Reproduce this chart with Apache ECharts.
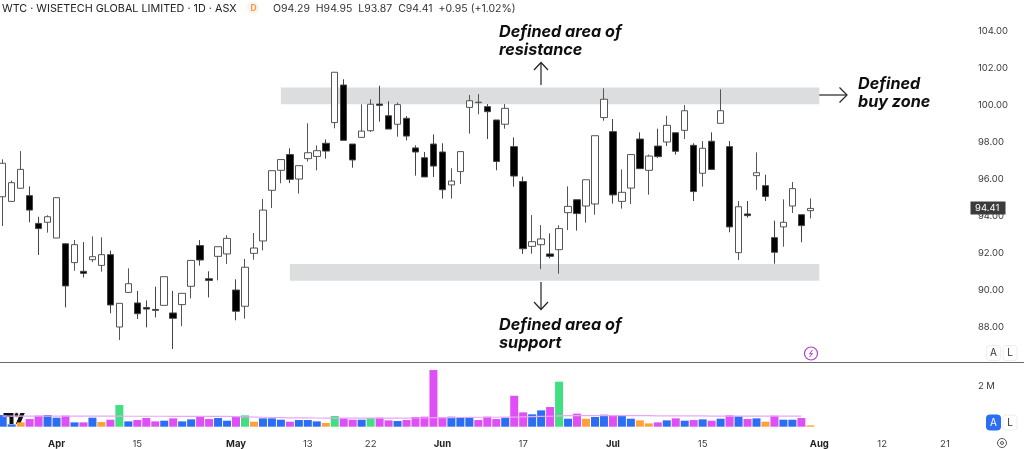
<!DOCTYPE html>
<html>
<head>
<meta charset="utf-8">
<style>
  html, body { margin: 0; padding: 0; background: #fff; }
  #chart { width: 1024px; height: 449px; }
</style>
<script src="https://cdn.jsdelivr.net/npm/echarts@6/dist/echarts.min.js"></script>
</head>
<body>
<div id="chart"></div>
<script>
const opens = [95.04,94.79,95.50,95.10,93.60,93.66,92.81,92.50,91.48,91.01,91.64,91.33,91.91,88.00,89.87,89.30,89.05,88.95,89.17,88.76,89.21,90.20,92.40,90.61,91.82,91.95,90.00,89.12,91.98,92.65,95.39,96.47,97.32,96.00,97.10,97.22,97.93,99.05,101.08,97.89,98.25,98.61,100.05,99.42,98.96,99.28,97.68,97.15,97.89,97.46,95.68,96.40,99.87,100.13,99.91,99.19,98.96,97.75,95.86,92.36,92.45,91.95,92.18,94.18,94.88,94.54,94.65,99.32,98.56,94.79,95.51,98.16,96.47,97.78,98.00,98.50,98.63,97.82,96.31,98.04,99.01,97.75,92.02,94.11,96.18,95.64,92.83,93.41,94.54,94.07,94.29];
const closes = [96.85,95.80,96.52,94.32,93.32,93.96,94.99,90.22,92.45,90.90,91.80,91.91,89.19,89.28,90.34,88.72,88.97,88.90,90.72,88.47,89.82,91.60,91.62,90.52,92.34,92.79,88.85,91.23,92.27,94.32,96.45,97.05,95.98,96.72,97.42,97.53,97.51,101.77,98.09,97.03,98.59,100.04,99.98,98.70,100.02,98.32,97.46,96.11,96.70,95.42,95.89,97.48,100.23,100.15,99.64,96.95,99.82,96.16,92.23,92.61,92.76,91.82,93.32,94.52,94.13,95.96,98.34,100.31,95.14,95.28,97.32,96.56,97.24,97.21,98.90,97.50,99.69,95.32,97.66,96.52,99.69,93.41,94.50,94.02,96.34,95.06,92.04,93.66,95.48,93.48,94.41];
const lows = [93.46,94.76,95.50,93.66,91.89,93.10,92.81,89.06,91.04,90.68,91.51,90.99,88.74,87.30,89.84,88.43,87.98,88.52,89.17,86.81,88.04,89.55,91.32,89.60,90.52,91.41,88.36,88.45,91.64,92.14,94.43,95.77,95.78,95.21,96.95,96.47,97.10,98.74,98.09,96.61,98.25,98.54,99.10,98.70,98.29,98.09,96.18,96.11,96.11,94.94,94.94,95.73,98.45,99.50,98.16,96.47,98.72,95.59,91.95,91.96,91.13,91.71,90.88,93.24,93.21,93.64,94.07,99.15,94.67,94.40,94.65,96.56,95.15,97.14,97.78,97.32,98.16,94.81,95.59,96.52,99.01,93.12,91.62,93.91,95.41,94.81,91.42,92.34,94.16,92.58,93.87];
const highs = [97.06,95.91,97.51,95.60,93.96,94.04,94.99,92.50,92.70,92.59,92.90,92.85,92.13,89.28,91.17,89.95,89.44,90.18,90.72,89.95,89.82,91.60,92.70,91.01,92.34,92.96,90.58,91.68,93.08,94.92,96.45,97.05,97.66,96.72,99.01,97.82,98.14,101.77,101.39,97.89,100.04,100.31,101.04,100.20,100.13,99.40,97.82,97.46,98.41,97.93,96.58,97.48,100.54,100.59,100.05,99.19,100.05,98.25,96.13,94.05,93.51,93.06,93.50,95.60,94.88,95.96,98.34,100.90,99.24,96.52,97.32,98.52,97.32,98.72,99.42,98.50,100.00,97.93,98.05,98.52,100.85,98.05,94.81,94.81,97.44,96.23,93.75,94.90,95.84,94.07,94.95];

// volume in thousands, colour key per bar: m magenta, b blue, g green, o orange
const volumes = [569,114,211,374,537,569,439,537,211,211,439,228,341,1057,260,325,423,260,293,407,260,358,488,374,423,293,488,553,244,407,407,341,244,325,325,260,179,520,407,341,341,423,439,309,276,325,472,488,2764,423,488,439,439,325,488,374,439,1512,699,602,797,959,2195,390,634,390,472,585,537,537,390,309,163,211,309,407,293,325,358,293,390,553,504,374,407,244,537,341,341,423,65];
const volumeKeys = [
  'bbommbbmbm', 'bomgbmmmbm', 'bbmmbbmgob', 'bbmbbbogmm', 'bgmmbmmmmm',
  'bbbmmmbmmb', 'bmgbmobbmb', 'boombmbmbm', 'bmbmbombbmo'
].join('');
const volumeAvg = [520,520,520,520,520,520,520,520,520,520,515,515,515,515,510,510,510,510,510,505,505,505,500,500,500,500,490,480,470,460,450,440,430,430,430,425,420,420,420,420,420,420,420,420,420,420,425,425,440,445,445,450,455,460,460,460,465,470,480,490,500,510,530,540,540,540,540,540,540,540,540,540,540,530,530,530,530,525,525,520,520,520,520,520,520,520,520,520,520,520,null];

const volumeColors = { m: '#df4ff6', b: '#2b6df3', g: '#41df81', o: '#ffa03a' };

const tickSlots = [6,15,26,34,41,49,58,68,78,91,98,105];
const tickLabels = ['Apr','15','May','13','22','Jun','17','Jul','15','Aug','12','21'];
const monthLabels = ['Apr','May','Jun','Jul','Aug'];
const slotCount = 108;

const priceTicks = { min: 86, max: 104, interval: 2 };
const resistanceZone = [100.04, 100.94];
const supportZone = [90.5, 91.41];
const headerTitle = 'WTC · WISETECH GLOBAL LIMITED · 1D · ASX';
const headerValues = 'O94.29  H94.95  L93.87  C94.41  +0.95 (+1.02%)';

const categories = [];
for (let i = 0; i < slotCount; i++) {
  const at = tickSlots.indexOf(i);
  categories.push(at >= 0 ? tickLabels[at] : '');
}
const candles = opens.map((o, i) => [o, closes[i], lows[i], highs[i]]);
const bars = volumes.map((v, i) => ({
  value: v,
  itemStyle: { color: volumeColors[volumeKeys[i]] }
}));
const lastClose = closes[closes.length - 1];

const labelFont = 'Inter, "Liberation Sans", sans-serif';

function note(x, y, text) {
  return {
    type: 'text', left: x, top: y, silent: true,
    style: {
      text: text, fill: '#0f0f0f', lineHeight: 18,
      font: 'italic 700 16.2px ' + labelFont
    }
  };
}
function line(points, stroke, w) {
  return {
    type: 'polyline', silent: true,
    shape: { points: points },
    style: { stroke: stroke || '#222', lineWidth: w || 1.2, fill: null }
  };
}
function button(x, y, text, on) {
  return {
    type: 'group', left: x, top: y, silent: true,
    children: [
      { type: 'rect', shape: { x: 0, y: 0, width: 14, height: 15, r: 3 },
        style: { fill: on ? '#2b6df3' : '#fff', stroke: on ? '#2b6df3' : '#eee', lineWidth: 1 } },
      { type: 'text', style: { x: 7, y: 7.5, text: text, align: 'center', verticalAlign: 'middle',
        fill: on ? '#fff' : '#333', font: '10px ' + labelFont } }
    ]
  };
}

const chart = echarts.init(document.getElementById('chart'), null, { renderer: 'canvas' });
chart.setOption({
  animation: false,
  backgroundColor: '#fff',
  grid: [
    { left: 2.7, width: 960.2, top: 31, height: 333 },
    { left: 2.7, width: 960.2, top: 365.2, height: 61.5 }
  ],
  xAxis: [
    { type: 'category', gridIndex: 0, data: categories, boundaryGap: false,
      axisLine: { show: false }, axisTick: { show: false }, axisLabel: { show: false }, splitLine: { show: false } },
    { type: 'category', gridIndex: 1, data: categories, boundaryGap: false,
      axisLine: { show: false }, axisTick: { show: false }, splitLine: { show: false },
      axisLabel: {
        interval: (i, v) => v !== '',
        margin: 12, hideOverlap: false,
        color: '#3a3a3a', fontFamily: labelFont, fontSize: 9.5,
        formatter: v => monthLabels.includes(v) ? '{m|' + v + '}' : v,
        rich: { m: { fontWeight: 700, fontSize: 9.5, color: '#222', fontFamily: labelFont } }
      } }
  ],
  yAxis: [
    { type: 'value', gridIndex: 0, position: 'right', scale: true,
      min: priceTicks.min, max: priceTicks.max, interval: priceTicks.interval,
      splitLine: { show: false }, axisLine: { show: false }, axisTick: { show: false },
      axisLabel: {
        showMinLabel: false, margin: 15,
        color: '#3a3a3a', fontFamily: labelFont, fontSize: 9.5,
        formatter: v => v.toFixed(2)
      } },
    { type: 'value', gridIndex: 1, position: 'right', min: 0, max: 3000, interval: 1000,
      splitLine: { show: false }, axisLine: { show: false }, axisTick: { show: false },
      axisLabel: {
        margin: 15, color: '#3a3a3a', fontFamily: labelFont, fontSize: 9.5,
        formatter: v => v === 2000 ? '2 M' : ''
      } }
  ],
  series: [
    {
      type: 'candlestick', xAxisIndex: 0, yAxisIndex: 0, data: candles, barWidth: 7, clip: false,
      itemStyle: { color: '#fff', color0: '#000', borderColor: '#555', borderColor0: '#444', borderWidth: 1 },
      markArea: {
        silent: true,
        itemStyle: { color: '#dcddde' },
        data: [
          [{ xAxis: 31, yAxis: resistanceZone[0] }, { xAxis: 91, yAxis: resistanceZone[1] }],
          [{ xAxis: 32, yAxis: supportZone[0] }, { xAxis: 91, yAxis: supportZone[1] }]
        ]
      }
    },
    { type: 'bar', xAxisIndex: 1, yAxisIndex: 1, data: bars, barWidth: 8, clip: false },
    { type: 'line', xAxisIndex: 1, yAxisIndex: 1, data: volumeAvg, showSymbol: false,
      lineStyle: { color: '#e9a6f7', width: 1.2 }, z: 5 }
  ],
  graphic: [
    { type: 'text', left: 2, top: 3,
      style: { text: headerTitle, fill: '#222', font: '10.8px ' + labelFont } },
    { type: 'circle', shape: { cx: 253, cy: 8, r: 6 }, style: { fill: '#f4f4f4' } },
    { type: 'text', left: 250.5, top: 3.5,
      style: { text: 'D', fill: '#ff9a2e', font: '700 8.5px ' + labelFont } },
    { type: 'text', left: 273, top: 3,
      style: { text: headerValues, fill: '#333', font: '10.5px ' + labelFont } },

    note(499, 23, 'Defined area of\nresistance'),
    note(858, 75.5, 'Defined\nbuy zone'),
    note(499, 316, 'Defined area of\nsupport'),

    line([[541, 85], [541, 63]]),
    line([[534, 70], [541, 62.5], [548, 70]]),
    line([[541, 282], [541, 309]]),
    line([[534, 302], [541, 309.5], [548, 302]]),
    line([[819, 95], [846, 95]]),
    line([[839.5, 87.5], [847, 95], [839.5, 102.5]]),

    line([[0, 362.5], [1024, 362.5]], '#6a6a6a', 1),

    // last price tag
    { type: 'rect', shape: { x: 970.5, y: 201.5, width: 35, height: 13 }, style: { fill: '#3c3c3c' } },
    { type: 'text', left: 975, top: 203,
      style: { text: lastClose.toFixed(2), fill: '#fff', font: '9.5px ' + labelFont } },

    // bolt badge
    { type: 'circle', shape: { cx: 811, cy: 353.5, r: 6.5 },
      style: { fill: '#fff', stroke: '#a945c9', lineWidth: 1.2 } },
    line([[812.5, 350], [809.5, 354], [812.5, 353.5], [809.5, 357]], '#a945c9', 1),

    button(986, 345, 'A', false),
    button(1002.5, 345, 'L', false),
    button(986, 414.5, 'A', true),
    button(1002.5, 414.5, 'L', false),

    // settings gear
    { type: 'circle', shape: { cx: 1002, cy: 443, r: 4.5 }, style: { fill: '#fff', stroke: '#555', lineWidth: 1 } },
    { type: 'circle', shape: { cx: 1002, cy: 443, r: 1.5 }, style: { fill: '#fff', stroke: '#555', lineWidth: 1 } },

    // logo
    { type: 'polygon', shape: { points: [[3, 412.5], [14, 412.5], [14, 424.5], [9, 424.5], [9, 417.5], [3, 417.5]] },
      style: { fill: '#111', stroke: '#fff', lineWidth: 1 } },
    { type: 'circle', shape: { cx: 16.5, cy: 415, r: 2.4 }, style: { fill: '#111', stroke: '#fff', lineWidth: 0.8 } },
    { type: 'polygon', shape: { points: [[20, 412.5], [25.5, 412.5], [20.5, 424.5], [15, 424.5]] },
      style: { fill: '#111', stroke: '#fff', lineWidth: 1 } }
  ]
});
</script>
</body>
</html>
